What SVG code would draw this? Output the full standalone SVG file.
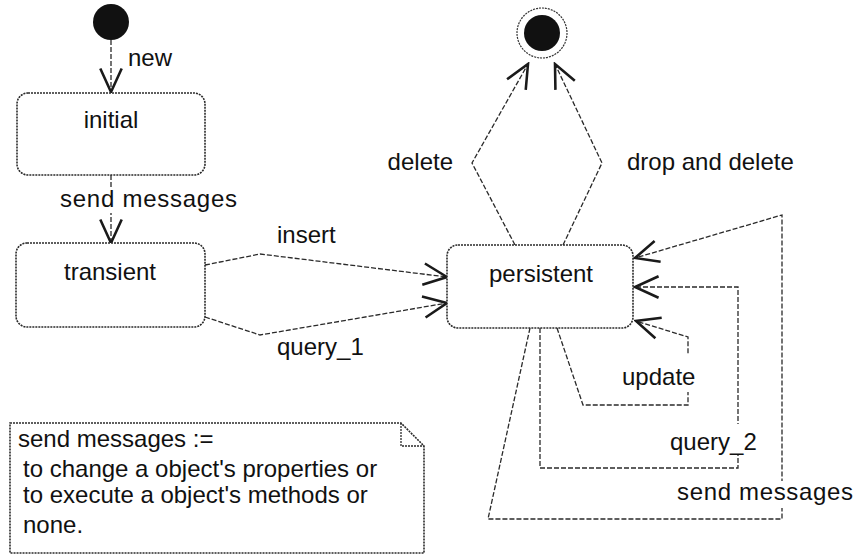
<svg xmlns="http://www.w3.org/2000/svg" width="860" height="556" viewBox="0 0 860 556">
<style>
.conn{fill:none;stroke:#2a2a2a;stroke-width:1.3;stroke-dasharray:5 2}
.box{fill:#fff;stroke:#2a2a2a;stroke-width:1.6;stroke-dasharray:2 1}
.t{font-family:"Liberation Sans",Arial,sans-serif;font-size:24px;fill:#111}
.gap{fill:#fff;stroke:none}
</style>
<defs>
<marker id="arr" markerUnits="userSpaceOnUse" markerWidth="30" markerHeight="30" viewBox="-26 -13 28 26" refX="0" refY="0" orient="auto">
<path d="M-22,-10 L0,0 L-22,10" fill="none" stroke="#1a1a1a" stroke-width="2.4"/>
</marker>
</defs>
<rect width="860" height="556" fill="#fff"/>
<g id="connectors">
<path class="conn" d="M111,40 L111,92" marker-end="url(#arr)"/>
<path class="conn" d="M111,175 L111,243" marker-end="url(#arr)"/>
<path class="conn" d="M205,265 L260,254 L447,277" marker-end="url(#arr)"/>
<path class="conn" d="M205,317 L260,335 L447,303" marker-end="url(#arr)"/>
<path class="conn" d="M515,245 L472,163 L528,64" marker-end="url(#arr)"/>
<path class="conn" d="M563,245 L602,163 L555,64" marker-end="url(#arr)"/>
<path class="conn" d="M557,328 L583,405 L688,405 L688,337 L636,321" marker-end="url(#arr)"/>
<path class="conn" d="M540,328 L540,468 L738,468 L738,287 L635,287" marker-end="url(#arr)"/>
<path class="conn" d="M530,328 L488,519 L782,519 L782,215 L635,258" marker-end="url(#arr)"/>
<rect class="gap" x="58" y="188" width="182" height="25"/>
<rect class="gap" x="620" y="354" width="78" height="38"/>
<rect class="gap" x="667" y="424" width="90" height="31"/>
<rect class="gap" x="674" y="481" width="182" height="27"/>
<text class="t" x="128" y="66">new</text>
<text class="t" x="60" y="207" textLength="177">send messages</text>
<text class="t" x="277" y="243">insert</text>
<text class="t" x="277" y="355">query_1</text>
<text class="t" x="453" y="170" text-anchor="end">delete</text>
<text class="t" x="627" y="170">drop and delete</text>
<text class="t" x="622" y="385">update</text>
<text class="t" x="670" y="450">query_2</text>
<text class="t" x="677" y="500" textLength="176">send messages</text>
</g>
<g id="start">
<circle cx="111" cy="22" r="18" fill="#111"/>
</g>
<g id="end">
<circle cx="542" cy="33" r="25" fill="#fff" stroke="#333" stroke-width="1.2" stroke-dasharray="2 1"/>
<circle cx="542" cy="33" r="18" fill="#111"/>
</g>
<g id="initial">
<rect class="box" x="17" y="93" width="188" height="82" rx="11"/>
<text class="t" x="111" y="128" text-anchor="middle">initial</text>
</g>
<g id="transient">
<rect class="box" x="16" y="243" width="189" height="84" rx="11"/>
<text class="t" x="110" y="280" text-anchor="middle">transient</text>
</g>
<g id="persistent">
<rect class="box" x="447" y="245" width="186" height="83" rx="11"/>
<text class="t" x="541" y="282" text-anchor="middle">persistent</text>
</g>
<g id="note">
<path class="box" d="M10,423 L401,423 L424,446 L424,553 L10,553 Z"/>
<path d="M401,423 L401,446 L424,446" fill="none" stroke="#2a2a2a" stroke-width="1.3" stroke-dasharray="2 1"/>
<text class="t" x="18" y="447">send messages :=</text>
<text class="t" x="23" y="477">to change a object's properties or</text>
<text class="t" x="23" y="503">to execute a object's methods or</text>
<text class="t" x="23" y="533">none.</text>
</g>
</svg>
